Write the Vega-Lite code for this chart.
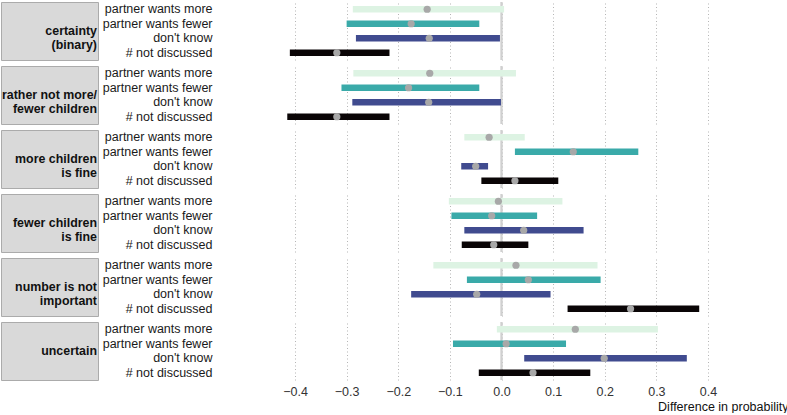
{
  "$schema": "https://vega.github.io/schema/vega-lite/v6.json",
  "padding": {"left": 0, "top": 1, "right": 0, "bottom": 0},
  "background": "white",
  "config": {
    "font": "Liberation Sans",
    "view": {"stroke": null},
    "concat": {"spacing": 3}
  },
  "datasets": {
    "strips": [
      {"group": "certainty", "label": "certainty\n(binary)"},
      {"group": "rather not", "label": "rather not more/\nfewer children"},
      {"group": "more fine", "label": "more children\nis fine"},
      {"group": "fewer fine", "label": "fewer children\nis fine"},
      {"group": "not important", "label": "number is not\nimportant"},
      {"group": "uncertain", "label": "uncertain"}
    ],
    "bars": [
      {"group": "certainty", "cat": "partner wants more", "lo": -0.288, "est": -0.144, "hi": 0.005},
      {"group": "certainty", "cat": "partner wants fewer", "lo": -0.300, "est": -0.175, "hi": -0.043},
      {"group": "certainty", "cat": "don't know", "lo": -0.282, "est": -0.140, "hi": -0.003},
      {"group": "certainty", "cat": "# not discussed", "lo": -0.410, "est": -0.319, "hi": -0.217},
      {"group": "rather not", "cat": "partner wants more", "lo": -0.287, "est": -0.139, "hi": 0.028},
      {"group": "rather not", "cat": "partner wants fewer", "lo": -0.310, "est": -0.180, "hi": -0.043},
      {"group": "rather not", "cat": "don't know", "lo": -0.289, "est": -0.141, "hi": -0.001},
      {"group": "rather not", "cat": "# not discussed", "lo": -0.415, "est": -0.319, "hi": -0.217},
      {"group": "more fine", "cat": "partner wants more", "lo": -0.072, "est": -0.024, "hi": 0.045},
      {"group": "more fine", "cat": "partner wants fewer", "lo": 0.026, "est": 0.139, "hi": 0.265},
      {"group": "more fine", "cat": "don't know", "lo": -0.078, "est": -0.050, "hi": -0.026},
      {"group": "more fine", "cat": "# not discussed", "lo": -0.039, "est": 0.026, "hi": 0.110},
      {"group": "fewer fine", "cat": "partner wants more", "lo": -0.102, "est": -0.006, "hi": 0.118},
      {"group": "fewer fine", "cat": "partner wants fewer", "lo": -0.097, "est": -0.019, "hi": 0.069},
      {"group": "fewer fine", "cat": "don't know", "lo": -0.072, "est": 0.043, "hi": 0.159},
      {"group": "fewer fine", "cat": "# not discussed", "lo": -0.077, "est": -0.015, "hi": 0.052},
      {"group": "not important", "cat": "partner wants more", "lo": -0.132, "est": 0.028, "hi": 0.186},
      {"group": "not important", "cat": "partner wants fewer", "lo": -0.067, "est": 0.052, "hi": 0.192},
      {"group": "not important", "cat": "don't know", "lo": -0.175, "est": -0.048, "hi": 0.095},
      {"group": "not important", "cat": "# not discussed", "lo": 0.128, "est": 0.250, "hi": 0.383},
      {"group": "uncertain", "cat": "partner wants more", "lo": -0.009, "est": 0.143, "hi": 0.303},
      {"group": "uncertain", "cat": "partner wants fewer", "lo": -0.094, "est": 0.009, "hi": 0.125},
      {"group": "uncertain", "cat": "don't know", "lo": 0.044, "est": 0.199, "hi": 0.359},
      {"group": "uncertain", "cat": "# not discussed", "lo": -0.044, "est": 0.061, "hi": 0.172}
    ]
  },
  "hconcat": [
    {
      "data": {"name": "strips"},
      "facet": {
        "row": {
          "field": "group",
          "type": "nominal",
          "title": null,
          "header": {"labels": false, "labelPadding": 0, "titlePadding": 0},
          "sort": ["certainty", "rather not", "more fine", "fewer fine", "not important", "uncertain"]
        }
      },
      "spacing": 6,
      "bounds": "flush",
      "spec": {
        "width": 97,
        "height": 58,
        "view": {"fill": "#d9d9d9", "stroke": "#ababab"},
        "mark": {
          "type": "text",
          "align": "right",
          "baseline": "middle",
          "dx": -1,
          "lineBreak": "\n",
          "lineHeight": 14,
          "fontSize": 12.4,
          "fontWeight": "bold",
          "color": "#111111"
        },
        "encoding": {
          "x": {"datum": 1, "type": "quantitative", "scale": {"domain": [0, 1]}, "axis": null},
          "y": {"datum": 0.5, "type": "quantitative", "scale": {"domain": [0, 1]}, "axis": null},
          "text": {"field": "label", "type": "nominal"}
        }
      }
    },
    {
      "data": {"name": "bars"},
      "facet": {
        "row": {
          "field": "group",
          "type": "nominal",
          "title": null,
          "header": {"labels": false, "labelPadding": 0, "titlePadding": 0},
          "sort": ["certainty", "rather not", "more fine", "fewer fine", "not important", "uncertain"]
        }
      },
      "spacing": 6,
      "bounds": "flush",
      "spec": {
        "width": 573,
        "height": 58,
        "encoding": {
          "y": {
            "field": "cat",
            "type": "nominal",
            "sort": ["partner wants more", "partner wants fewer", "don't know", "# not discussed"],
            "axis": {
              "title": null,
              "ticks": false,
              "domain": false,
              "labelFontSize": 12.5,
              "labelColor": "#1a1a1a",
              "labelPadding": 3
            }
          }
        },
        "layer": [
          {
            "mark": {"type": "rule", "color": "#d0d0d0", "strokeWidth": 1.5},
            "encoding": {
              "x": {
                "datum": 0,
                "type": "quantitative",
                "scale": {"domain": [-0.555, 0.555], "nice": false, "zero": false},
                "axis": {
                  "values": [-0.4, -0.3, -0.2, -0.1, 0, 0.1, 0.2, 0.3, 0.4],
                  "format": ".1f",
                  "grid": true,
                  "gridDash": [1, 2.5],
                  "gridColor": "#b5b5b5",
                  "gridWidth": 1,
                  "ticks": false,
                  "domain": false,
                  "labelFontSize": 12.5,
                  "labelColor": "#333333",
                  "labelPadding": 5,
                  "title": "Difference in probability",
                  "titleAnchor": "end",
                  "titleFontSize": 12.5,
                  "titleFontWeight": "normal",
                  "titleColor": "#111111",
                  "titlePadding": 3
                }
              },
              "y": null
            }
          },
          {
            "mark": {"type": "rule", "strokeWidth": 6.5, "strokeCap": "butt"},
            "encoding": {
              "x": {"field": "lo", "type": "quantitative"},
              "x2": {"field": "hi"},
              "color": {
                "field": "cat",
                "type": "nominal",
                "scale": {
                  "domain": ["partner wants more", "partner wants fewer", "don't know", "# not discussed"],
                  "range": ["#ddf3e3", "#3aaaa9", "#404b8f", "#0a0506"]
                },
                "legend": null
              }
            }
          },
          {
            "mark": {"type": "point", "filled": true, "shape": "circle", "size": 52, "color": "#a8a8a8", "opacity": 1},
            "encoding": {
              "x": {"field": "est", "type": "quantitative"}
            }
          }
        ]
      }
    }
  ]
}
